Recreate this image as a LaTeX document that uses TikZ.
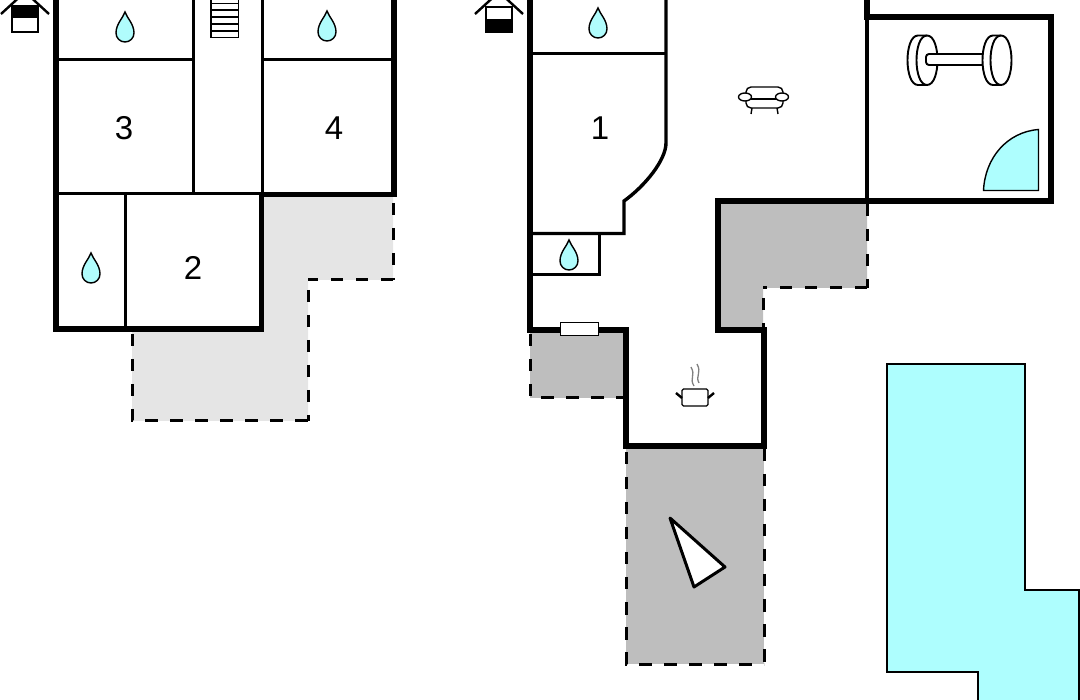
\documentclass[tikz,border=0pt]{standalone}
\usepackage{fontspec}
\setmainfont{Liberation Sans}
\definecolor{wet}{HTML}{B0FCFC}
\definecolor{pool}{HTML}{AEFEFE}
\definecolor{deckgrey}{HTML}{BEBEBE}
\definecolor{decklight}{HTML}{E5E5E5}
\tikzset{x=1pt,y=-1pt,
 wall/.style={line width=5.8pt,line join=miter,line cap=rect},
 thin wall/.style={line width=3pt},
 dash edge/.style={line width=3pt,dash pattern=on 12.5pt off 12.5pt},
 num/.style={font=\fontsize{33}{36}\selectfont,inner sep=0pt,text=black},
 drop/.style={fill=wet,draw=black,line width=1.4pt},
 wetfill/.style={fill=pool,draw=black,line width=2pt},
 deck/.style={fill=deckgrey},
 deck light/.style={fill=decklight}}
\newcommand{\dropat}[2]{\draw[drop] (#1,#2-15) .. controls (#1+2,#2-9) and (#1+9,#2-3) .. (#1+9,#2+6) .. controls (#1+9,#2+11) and (#1+5,#2+15) .. (#1,#2+15) .. controls (#1-5,#2+15) and (#1-9,#2+11) .. (#1-9,#2+6) .. controls (#1-9,#2-3) and (#1-2,#2-9) .. (#1,#2-15) -- cycle;}
\begin{document}
\begin{tikzpicture}
\useasboundingbox (0,0) rectangle (1080,700);
% light terrace
\fill[deck light] (262,195) -- (393,195) -- (393,280) -- (308,280) -- (308,421) -- (132,421) -- (132,329) -- (262,329) -- cycle;
\draw[dash edge] (393,203) -- (393,280);
\draw[dash edge] (393,279.5) -- (308,279.5);
\draw[dash edge] (308,290) -- (308,421);
\draw[dash edge] (132,334) -- (132,421) -- (308,421);
% left building
\draw[thin wall] (58,60) -- (193,60);
\draw[thin wall] (262,60) -- (391,60);
\draw[thin wall] (193,-2) -- (193,194);
\draw[thin wall] (262,-2) -- (262,194);
\draw[thin wall] (125,194) -- (125,328);
\draw[thin wall] (58,194) -- (262,194);
\draw[wall] (56,-8) -- (56,329) -- (261.5,329) -- (261.5,194.5) -- (394,194.5) -- (394,-8);
% stairs
\draw[line width=1.3pt,fill=white] (211,-3) rectangle (238.5,37.5);
\foreach \yy in {3.3,10,17,24,31} \draw[line width=1.3pt] (211,\yy) -- (238.5,\yy);
\dropat{125}{27}\dropat{327}{26}\dropat{91}{268}
\node[num] (n3) at (124,128) {3};
\node[num] (n4) at (334,128) {4};
\node[num] (n2) at (193,268) {2};
% left house icon
\draw[line width=2.4pt,fill=white] (12,6) rectangle (38,32);
\fill[black] (11,5) rectangle (39,18);
\draw[line width=2.4pt] (1,14) -- (25,-8) -- (49,14);
% right terraces
\fill[deck] (718,204) -- (867,204) -- (867,288) -- (763,288) -- (763,327) -- (718,327) -- cycle;
\draw[dash edge] (867,204) -- (867,288);
\draw[dash edge] (867,288) -- (763,288);
\draw[dash edge] (763,298) -- (763,327);
\fill[deck] (530,330) -- (626,330) -- (626,398) -- (530,398) -- cycle;
\draw[dash edge] (530,334) -- (530,398) -- (626,398);
\fill[deck] (626,447) -- (764,447) -- (764,664) -- (626,664) -- cycle;
\draw[dash edge] (626,452) -- (626,664) -- (764,664);
\draw[dash edge] (764,449) -- (764,664);
% right building
\draw[wall] (530,-8) -- (530,330) -- (626,330) -- (626,446) -- (764,446) -- (764,330) -- (718,330) -- (718,201) -- (1051,201) -- (1051,17) -- (867,17);
\draw[wall] (867,-8) -- (867,17);
\draw[line width=3.4pt] (867,17) -- (867,201);
\draw[thin wall] (532,54) -- (666,54);
\draw[line width=3.4pt] (666,-2) -- (666,143) .. controls (666,160) and (645,186) .. (624,201) -- (624,233.5) -- (532,233.5);
\draw[thin wall] (532,274.5) -- (599,274.5) -- (599,233.5);
% window
\draw[line width=1pt,fill=white] (560,322.5) rectangle (598,336);
\dropat{598}{23}\dropat{569}{255}
\node[num] (n1) at (600,128) {1};
% right house icon
\draw[line width=2.4pt,fill=white] (486,7) rectangle (512,32);
\fill[black] (485,19) rectangle (513,33);
\draw[line width=2.4pt] (475,14) -- (499,-8) -- (523,14);
% sofa
\begin{scope}[line width=1.4pt]
\draw[fill=white,rounded corners=5pt] (746,87) rectangle (783,108);
\draw (747,99) -- (782,99);
\draw (752,108) -- (751,114) (777,108) -- (778,114);
\draw[fill=white] (745,97) ellipse (6.5pt and 4pt);
\draw[fill=white] (782,97) ellipse (6.5pt and 4pt);
\end{scope}
% dumbbell
\begin{scope}[line width=1.9pt]
\draw[fill=white] (918,35.5) .. controls (904,35.5) and (904,85) .. (918,85) -- (927,85) .. controls (941,85) and (941,35.5) .. (927,35.5) -- cycle;
\draw (927,35.5) .. controls (913,35.5) and (913,85) .. (927,85);
\draw[fill=white,rounded corners=3pt] (926,54) rectangle (985,65);
\draw[fill=white] (993,35.5) .. controls (979,35.5) and (979,85) .. (993,85) -- (1001,85) .. controls (1015,85) and (1015,35.5) .. (1001,35.5) -- cycle;
\draw (1001,35.5) .. controls (987,35.5) and (987,85) .. (1001,85);
\end{scope}
\draw[fill=pool,draw=black,line width=1.4pt] (1038.5,129.5) -- (1038.5,190.5) -- (983.5,190.5) .. controls (985,158) and (1007,132) .. (1038.5,129.5) -- cycle;
% pot
\draw[line width=1.2pt,fill=white,rounded corners=1.5pt] (682,389) rectangle (708,406);
\draw[line width=2.4pt] (682,398) -- (676,393) (708,398) -- (714,393);
\draw[gray,line width=1.3pt] (694,386) .. controls (689,378) and (696,376) .. (691,367);
\draw[gray,line width=1.3pt] (699,383) .. controls (695,376) and (702,373) .. (697,364);
% compass
\draw[line width=3pt,fill=white,line join=round] (670,518) -- (725,567) -- (694,587) -- cycle;
% pool
\draw[wetfill] (886.5,364) -- (1025,364) -- (1025,590.5) -- (1078.5,590.5) -- (1078.5,704) -- (978,704) -- (978,672) -- (886.5,672) -- cycle;
\end{tikzpicture}
\end{document}
